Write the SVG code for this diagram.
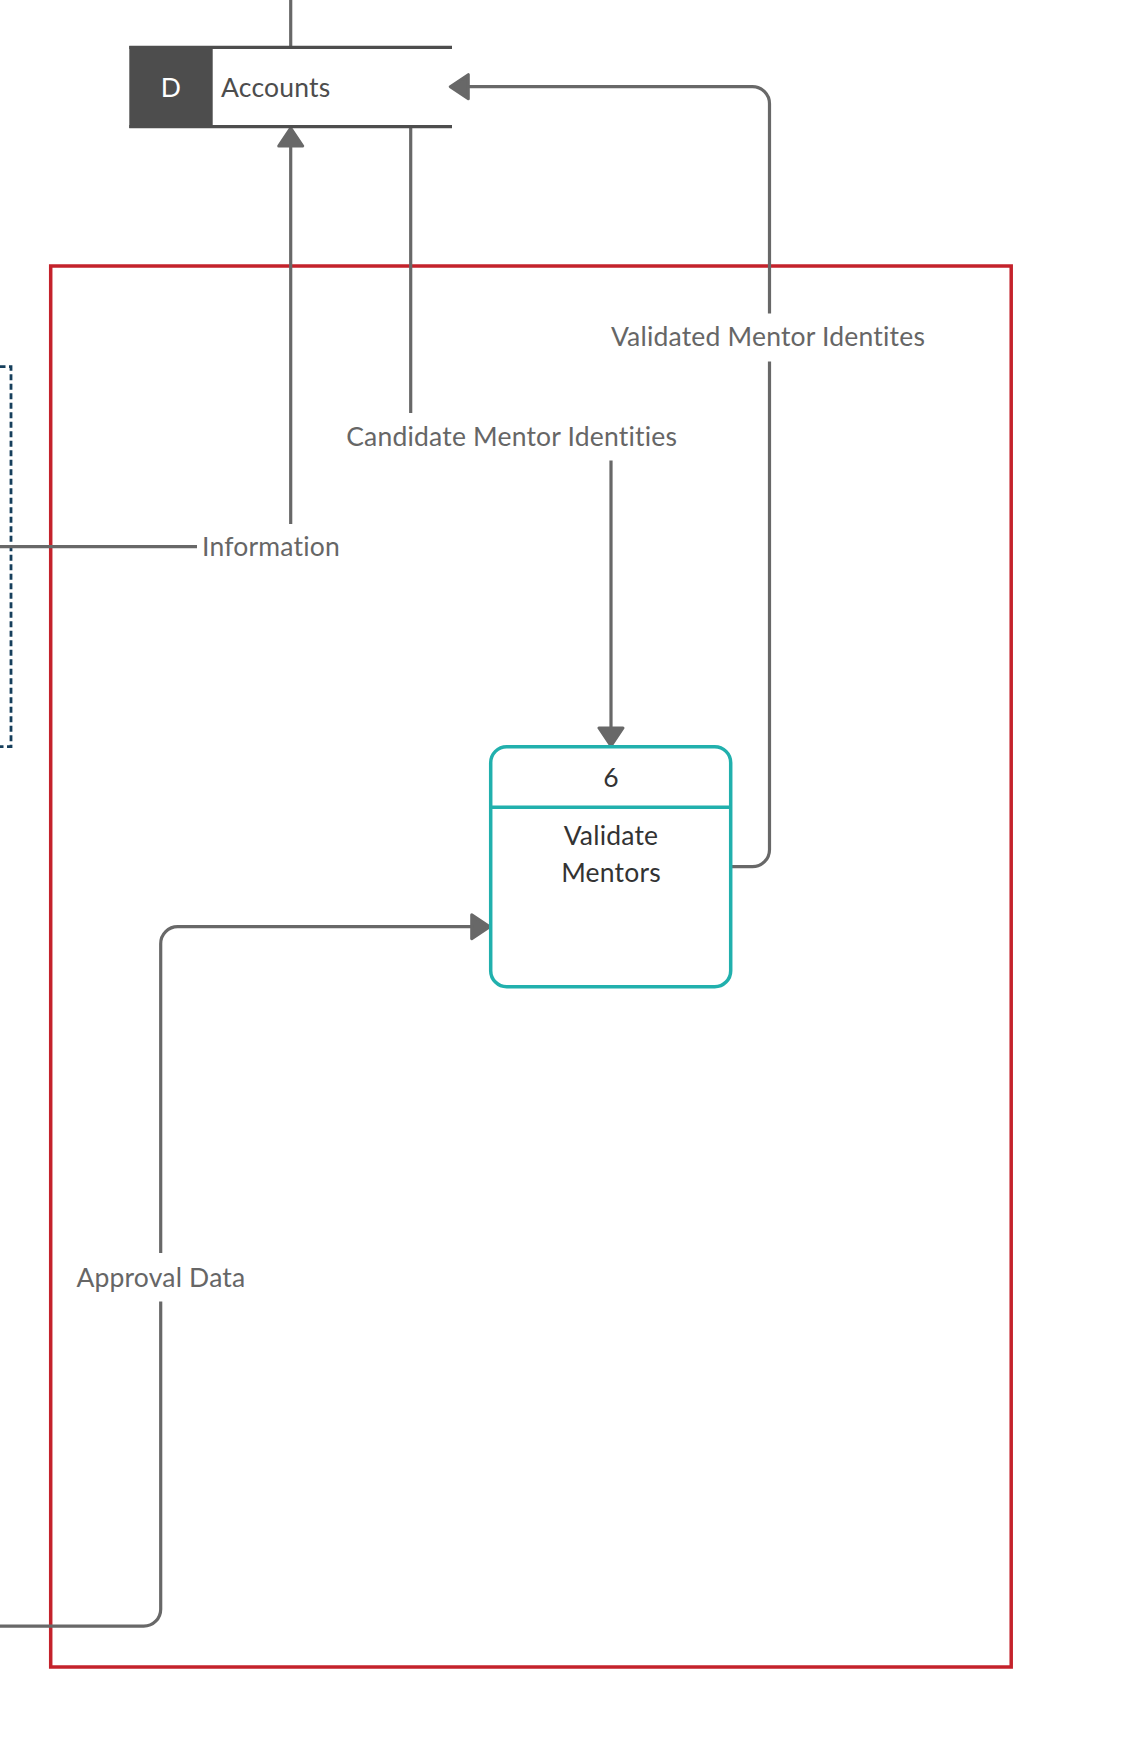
<svg xmlns="http://www.w3.org/2000/svg" width="1143" height="1752" viewBox="0 0 1143 1752">
<style>
.conn{fill:none;stroke:#686868;stroke-width:3.2}
.lbl{font-family:Lato,"Liberation Sans",sans-serif;font-size:26.5px;letter-spacing:0.2px;fill:#666;text-anchor:middle}
.lblbg{fill:#fff}
.ntxt{font-family:Lato,"Liberation Sans",sans-serif;font-size:26.5px;letter-spacing:0.2px;fill:#333;text-anchor:middle}
.proc{fill:#fff;stroke:#21b0ad;stroke-width:3.5}
</style>
<defs>
<marker id="arr" viewBox="0 0 22 28" refX="11" refY="14" markerWidth="22" markerHeight="28" markerUnits="userSpaceOnUse" orient="auto">
<path d="M2,2 L20,14 L2,26 Z" fill="#686868" stroke="#686868" stroke-width="3" stroke-linejoin="round"/>
</marker>
</defs>
<rect width="1143" height="1752" fill="#fff"/>
<g id="boundary">
<rect x="50.7" y="266" width="960.5" height="1401" fill="none" stroke="#c4222b" stroke-width="3.5"/>
</g>
<g id="external-entity">
<rect x="-200" y="366.7" width="211" height="380" fill="none" stroke="#163f5c" stroke-width="2.8" stroke-dasharray="6 3.5"/>
</g>
<g id="connectors">
<path class="conn" d="M290.7,-5 V47"/>
<path class="conn" d="M-10,546.7 H290.7 V137" marker-end="url(#arr)"/>
<path class="conn" d="M410.7,127 V437 H611 V737" marker-end="url(#arr)"/>
<path class="conn" d="M730.7,866.7 H752.5 A17,17 0 0 0 769.5,849.7 V103.7 A17,17 0 0 0 752.5,86.7 H459.3" marker-end="url(#arr)"/>
<path class="conn" d="M-10,1626.2 H143.7 A17,17 0 0 0 160.7,1609.2 V943.7 A17,17 0 0 1 177.7,926.7 H480.7" marker-end="url(#arr)"/>
<rect class="lblbg" x="197" y="524" width="150" height="46"/>
<text class="lbl" x="271" y="556">Information</text>
<rect class="lblbg" x="340" y="413" width="344" height="47.5"/>
<text class="lbl" x="511.7" y="446">Candidate Mentor Identities</text>
<rect class="lblbg" x="602" y="313.5" width="334" height="48"/>
<text class="lbl" x="768" y="345.7">Validated Mentor Identites</text>
<rect class="lblbg" x="68" y="1253" width="186" height="48.5"/>
<text class="lbl" x="160.9" y="1286.7">Approval Data</text>
</g>
<g id="accounts">
<rect x="129.3" y="46" width="83.4" height="82" fill="#4d4d4d"/>
<line x1="129.3" y1="47.3" x2="452" y2="47.3" stroke="#4d4d4d" stroke-width="3.2"/>
<line x1="129.3" y1="126.7" x2="452" y2="126.7" stroke="#4d4d4d" stroke-width="3.2"/>
<text x="171" y="97" font-family="Lato,'Liberation Sans',sans-serif" font-size="26.5" letter-spacing="0.2" fill="#fff" text-anchor="middle">D</text>
<text x="221" y="97" font-family="Lato,'Liberation Sans',sans-serif" font-size="26.5" letter-spacing="0.2" fill="#4d4d4d">Accounts</text>
</g>
<g id="process-6">
<rect class="proc" x="490.7" y="746.7" width="240" height="240" rx="16" ry="16"/>
<line x1="490.7" y1="807.3" x2="730.7" y2="807.3" stroke="#21b0ad" stroke-width="3.5"/>
<text class="ntxt" x="611" y="786.7">6</text>
<text class="ntxt" x="611" y="845">Validate</text>
<text class="ntxt" x="611" y="881.7">Mentors</text>
</g>
</svg>
